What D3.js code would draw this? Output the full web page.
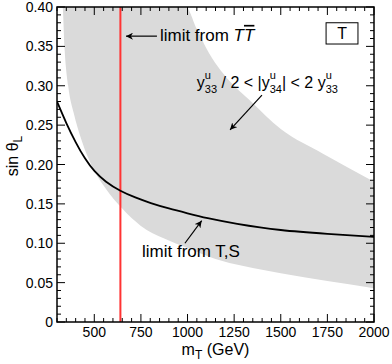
<!DOCTYPE html>
<html>
<head>
<meta charset="utf-8">
<script src="https://cdn.jsdelivr.net/npm/d3@7"></script>
<style>
body { margin: 0; background: #fff; }
text { font-family: "Liberation Sans", Arial, sans-serif; fill: #000; }
</style>
</head>
<body>
<div id="chart"></div>
<script>
// limit from T,S (black curve)
var massTS = [300, 350, 400, 450, 500, 560, 640, 720, 800, 900, 1000, 1100, 1250, 1500, 1750, 2000];
var sinTS = [0.280, 0.252, 0.228, 0.207, 0.191, 0.178, 0.166, 0.158, 0.151, 0.144, 0.138, 0.132, 0.125, 0.116, 0.112, 0.108];

// grey band, lower-left edge
var massLow = [300, 330, 340, 360, 390, 430, 500, 560, 650, 750, 875, 1000, 1150, 1300, 1500, 1750, 2000];
var sinLow = [0.40, 0.40, 0.35, 0.30, 0.265, 0.232, 0.192, 0.170, 0.144, 0.122, 0.106, 0.094, 0.080, 0.071, 0.062, 0.052, 0.043];

// grey band, upper-right edge
var massUp = [300, 990, 1050, 1100, 1225, 1332, 1500, 1724, 2000];
var sinUp = [0.40, 0.40, 0.372, 0.348, 0.306, 0.282, 0.245, 0.214, 0.178];

// limit from T Tbar
var massTT = 640;

var xTicks = [500, 750, 1000, 1250, 1500, 1750, 2000];
var yTicks = [0, 0.05, 0.10, 0.15, 0.20, 0.25, 0.30, 0.35, 0.40];

var width = 392, height = 364;
var plot = { left: 57, right: 374, top: 7, bottom: 322 };

var x = d3.scaleLinear().domain([300, 2000]).range([plot.left, plot.right]);
var y = d3.scaleLinear().domain([0, 0.40]).range([plot.bottom, plot.top]);

var svg = d3.select("#chart").append("svg")
    .attr("width", width)
    .attr("height", height);

var defs = svg.append("defs");
defs.append("clipPath").attr("id", "clip")
    .append("rect")
    .attr("x", plot.left).attr("y", plot.top)
    .attr("width", plot.right - plot.left)
    .attr("height", plot.bottom - plot.top);
defs.append("marker")
    .attr("id", "head")
    .attr("viewBox", "0 0 10 10")
    .attr("refX", 10).attr("refY", 5)
    .attr("markerWidth", 7).attr("markerHeight", 7)
    .attr("markerUnits", "userSpaceOnUse")
    .attr("orient", "auto")
    .append("path")
    .attr("d", "M0,0L10,5L0,10L3,5Z")
    .attr("fill", "#000");

var g = svg.append("g").attr("clip-path", "url(#clip)");

// band: grey under upper edge, then white under lower edge
var upper = massUp.map(function (m, i) { return [m, sinUp[i]]; });
var lower = massLow.map(function (m, i) { return [m, sinLow[i]]; });
var area = d3.area()
    .x(function (d) { return x(d[0]); })
    .y0(y(0))
    .y1(function (d) { return y(d[1]); })
    .curve(d3.curveMonotoneX);

g.append("path").attr("d", area(upper)).attr("fill", "#dadada");
g.append("path").attr("d", area(lower)).attr("fill", "#fff");

// red vertical line
g.append("line")
    .attr("x1", x(massTT)).attr("x2", x(massTT))
    .attr("y1", y(0)).attr("y2", y(0.40))
    .attr("stroke", "#ff3333")
    .attr("stroke-width", 2);

// black curve
var line = d3.line()
    .x(function (d, i) { return x(massTS[i]); })
    .y(function (d) { return y(d); })
    .curve(d3.curveBasis);
g.append("path")
    .attr("d", line(sinTS))
    .attr("fill", "none")
    .attr("stroke", "#000")
    .attr("stroke-width", 1.8);

// ticks (inward, on all four sides)
var xMinor = d3.range(300, 2001, 50);
var yMinor = d3.range(0, 41, 1).map(function (v) { return v / 100; });
function isMajorX(v) { return v % 250 === 0; }
function isMajorY(v) { return Math.round(v * 100) % 5 === 0; }

var ticks = svg.append("g").attr("stroke", "#000").attr("stroke-width", 1);
xMinor.forEach(function (v) {
    var len = isMajorX(v) ? 8 : 4;
    ticks.append("line").attr("x1", x(v)).attr("x2", x(v))
        .attr("y1", plot.bottom).attr("y2", plot.bottom - len);
    ticks.append("line").attr("x1", x(v)).attr("x2", x(v))
        .attr("y1", plot.top).attr("y2", plot.top + len);
});
yMinor.forEach(function (v) {
    var len = isMajorY(v) ? 8 : 4;
    ticks.append("line").attr("y1", y(v)).attr("y2", y(v))
        .attr("x1", plot.left).attr("x2", plot.left + len);
    ticks.append("line").attr("y1", y(v)).attr("y2", y(v))
        .attr("x1", plot.right).attr("x2", plot.right - len);
});

// frame
svg.append("rect")
    .attr("x", plot.left).attr("y", plot.top)
    .attr("width", plot.right - plot.left)
    .attr("height", plot.bottom - plot.top)
    .attr("fill", "none")
    .attr("stroke", "#000")
    .attr("stroke-width", 1.5);

// tick labels
svg.selectAll("text.xt")
    .data(xTicks)
    .enter().append("text")
    .attr("class", "xt")
    .attr("x", function (d) { return x(d); })
    .attr("y", 337)
    .attr("text-anchor", "middle")
    .attr("font-size", 14)
    .text(function (d) { return d; });

svg.selectAll("text.yt")
    .data(yTicks)
    .enter().append("text")
    .attr("class", "yt")
    .attr("x", 53)
    .attr("y", function (d) { return y(d) + 5; })
    .attr("text-anchor", "end")
    .attr("font-size", 14)
    .text(function (d) { return d === 0 ? "0" : d.toFixed(2); });

// axis titles
var xt = svg.append("text")
    .attr("x", (plot.left + plot.right) / 2)
    .attr("y", 355)
    .attr("text-anchor", "middle")
    .attr("font-size", 16);
xt.append("tspan").text("m");
xt.append("tspan").attr("dy", 4).attr("font-size", 12).text("T");
xt.append("tspan").attr("dy", -4).text(" (GeV)");

var yt = svg.append("text")
    .attr("transform", "translate(18,156) rotate(-90)")
    .attr("text-anchor", "middle")
    .attr("font-size", 16);
yt.append("tspan").text("sin \u03b8");
yt.append("tspan").attr("dy", 4).attr("font-size", 12).text("L");

// "T" box
svg.append("rect")
    .attr("x", x(1743)).attr("y", y(0.380))
    .attr("width", x(1914) - x(1743))
    .attr("height", y(0.353) - y(0.380))
    .attr("fill", "#fff")
    .attr("stroke", "#000")
    .attr("stroke-width", 1);
svg.append("text")
    .attr("x", (x(1743) + x(1914)) / 2)
    .attr("y", y(0.3665) + 6)
    .attr("text-anchor", "middle")
    .attr("font-size", 16)
    .text("T");

// annotation: limit from T Tbar
svg.append("line")
    .attr("x1", x(836)).attr("y1", y(0.363))
    .attr("x2", x(670)).attr("y2", y(0.363))
    .attr("stroke", "#000").attr("stroke-width", 1.2)
    .attr("marker-end", "url(#head)");
var tt = svg.append("text")
    .attr("x", x(852)).attr("y", y(0.357))
    .attr("font-size", 17);
tt.append("tspan").text("limit from ");
tt.append("tspan").attr("font-style", "italic").text("T");
tt.append("tspan").attr("font-style", "italic").attr("text-decoration", "overline").text("T");

// annotation: yukawa band
function richText(px, py, parts) {
    var cx = px;
    parts.forEach(function (p) {
        if (p.t) {
            var t = svg.append("text").attr("x", cx).attr("y", py)
                .attr("font-size", 16).attr("xml:space", "preserve").text(p.t);
            cx += t.node().getComputedTextLength();
        } else {
            var a = svg.append("text").attr("x", cx).attr("y", py - 9)
                .attr("font-size", 11).text(p.sup);
            var b = svg.append("text").attr("x", cx).attr("y", py + 5)
                .attr("font-size", 11).text(p.sub);
            cx += Math.max(a.node().getComputedTextLength(), b.node().getComputedTextLength());
        }
    });
}
richText(x(1050), y(0.297), [
    { t: "y" }, { sup: "u", sub: "33" },
    { t: " / 2 < |y" }, { sup: "u", sub: "34" },
    { t: "| < 2 y" }, { sup: "u", sub: "33" }
]);
svg.append("line")
    .attr("x1", x(1399)).attr("y1", y(0.288))
    .attr("x2", x(1228)).attr("y2", y(0.244))
    .attr("stroke", "#000").attr("stroke-width", 1.2)
    .attr("marker-end", "url(#head)");

// annotation: limit from T,S
svg.append("text")
    .attr("x", x(756)).attr("y", y(0.0825))
    .attr("font-size", 17)
    .text("limit from T,S");
svg.append("line")
    .attr("x1", x(986)).attr("y1", y(0.100))
    .attr("x2", x(1076)).attr("y2", y(0.1286))
    .attr("stroke", "#000").attr("stroke-width", 1.2)
    .attr("marker-end", "url(#head)");
</script>
</body>
</html>
